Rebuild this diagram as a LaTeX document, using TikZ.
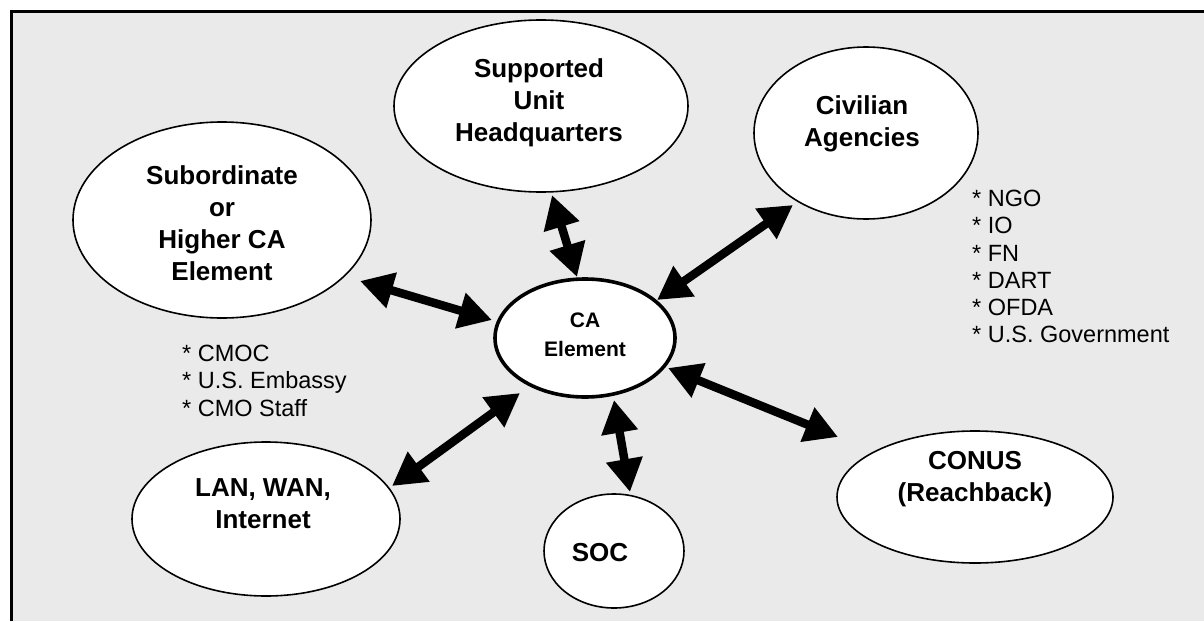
\documentclass[tikz,border=0pt]{standalone}
\usepackage{fontspec}
\setmainfont{Liberation Sans}
\usetikzlibrary{shapes.geometric,arrows.meta}

\definecolor{panel}{HTML}{EAEAEA}

\begin{document}
\begin{tikzpicture}[x=1pt,y=-1pt,
  bubble/.style={ellipse, draw=black, fill=white, line width=1.6pt, inner sep=0pt},
  hub/.style={bubble, line width=3.6pt},
  btext/.style={align=center, inner sep=0pt, font=\fontsize{26}{32}\selectfont\bfseries},
  hubtext/.style={align=center, inner sep=0pt, font=\fontsize{21}{29}\selectfont\bfseries},
  listtext/.style={align=left, inner sep=0pt, anchor=north west, font=\fontsize{23.5}{27.2}\selectfont},
  link/.style={line width=8.5pt, {Triangle[length=33pt,width=35pt]}-{Triangle[length=33pt,width=35pt]}}
]
\useasboundingbox (0,0) rectangle (1204,621);

% panel with its top and left rule
\fill[panel] (11,11.5) rectangle (1204,621);
\draw[line width=3pt] (11,621) -- (11,11.5) -- (1204,11.5);

% ellipses
\node[bubble, minimum width=298pt, minimum height=196pt] (sub) at (222,220) {};
\node[bubble, minimum width=294pt, minimum height=172pt] (sup) at (541,106) {};
\node[bubble, minimum width=224pt, minimum height=172pt] (civ) at (866,133) {};
\node[bubble, minimum width=268pt, minimum height=154pt] (lan) at (266,519) {};
\node[bubble, minimum width=140pt, minimum height=114pt] (soc) at (614,551) {};
\node[bubble, minimum width=276pt, minimum height=132pt] (conus) at (975,497) {};
\node[hub, minimum width=180pt, minimum height=118pt] (ca) at (585,338) {};

% ellipse labels
\node[btext] (subT) at (222,223) {Subordinate\\or\\Higher CA\\Element};
\node[btext] (supT) at (539,103) {Supported\\Unit\\Headquarters};
\node[btext] (civT) at (862,124) {Civilian\\Agencies};
\node[btext] (lanT) at (263,504) {LAN, WAN,\\Internet};
\node[btext] (socT) at (600,553) {SOC};
\node[btext] (conusT) at (975,479) {CONUS\\(Reachback)};
\node[hubtext] (caT) at (585,335) {CA\\Element};

% lists
\node[listtext] (subL) at (182,345) {* CMOC\\* U.S. Embassy\\* CMO Staff};
\node[listtext] (civL) at (972,190) {* NGO\\* IO\\* FN\\* DART\\* OFDA\\* U.S. Government};

% arrow end points
\coordinate (pSub) at (360,281);   \coordinate (qSub) at (492,320);
\coordinate (pSup) at (552,195);   \coordinate (qSup) at (577,277);
\coordinate (pCiv) at (793,205);   \coordinate (qCiv) at (657,300);
\coordinate (pCon) at (838,437);   \coordinate (qCon) at (668,368);
\coordinate (pSoc) at (630,492);   \coordinate (qSoc) at (614,400);
\coordinate (pLan) at (392,486);   \coordinate (qLan) at (520,393);

% two-way links to the CA element
\draw[link] (pSub) -- (qSub);
\draw[link] (pSup) -- (qSup);
\draw[link] (pCiv) -- (qCiv);
\draw[link] (pCon) -- (qCon);
\draw[link] (pSoc) -- (qSoc);
\draw[link] (pLan) -- (qLan);
\end{tikzpicture}
\end{document}
